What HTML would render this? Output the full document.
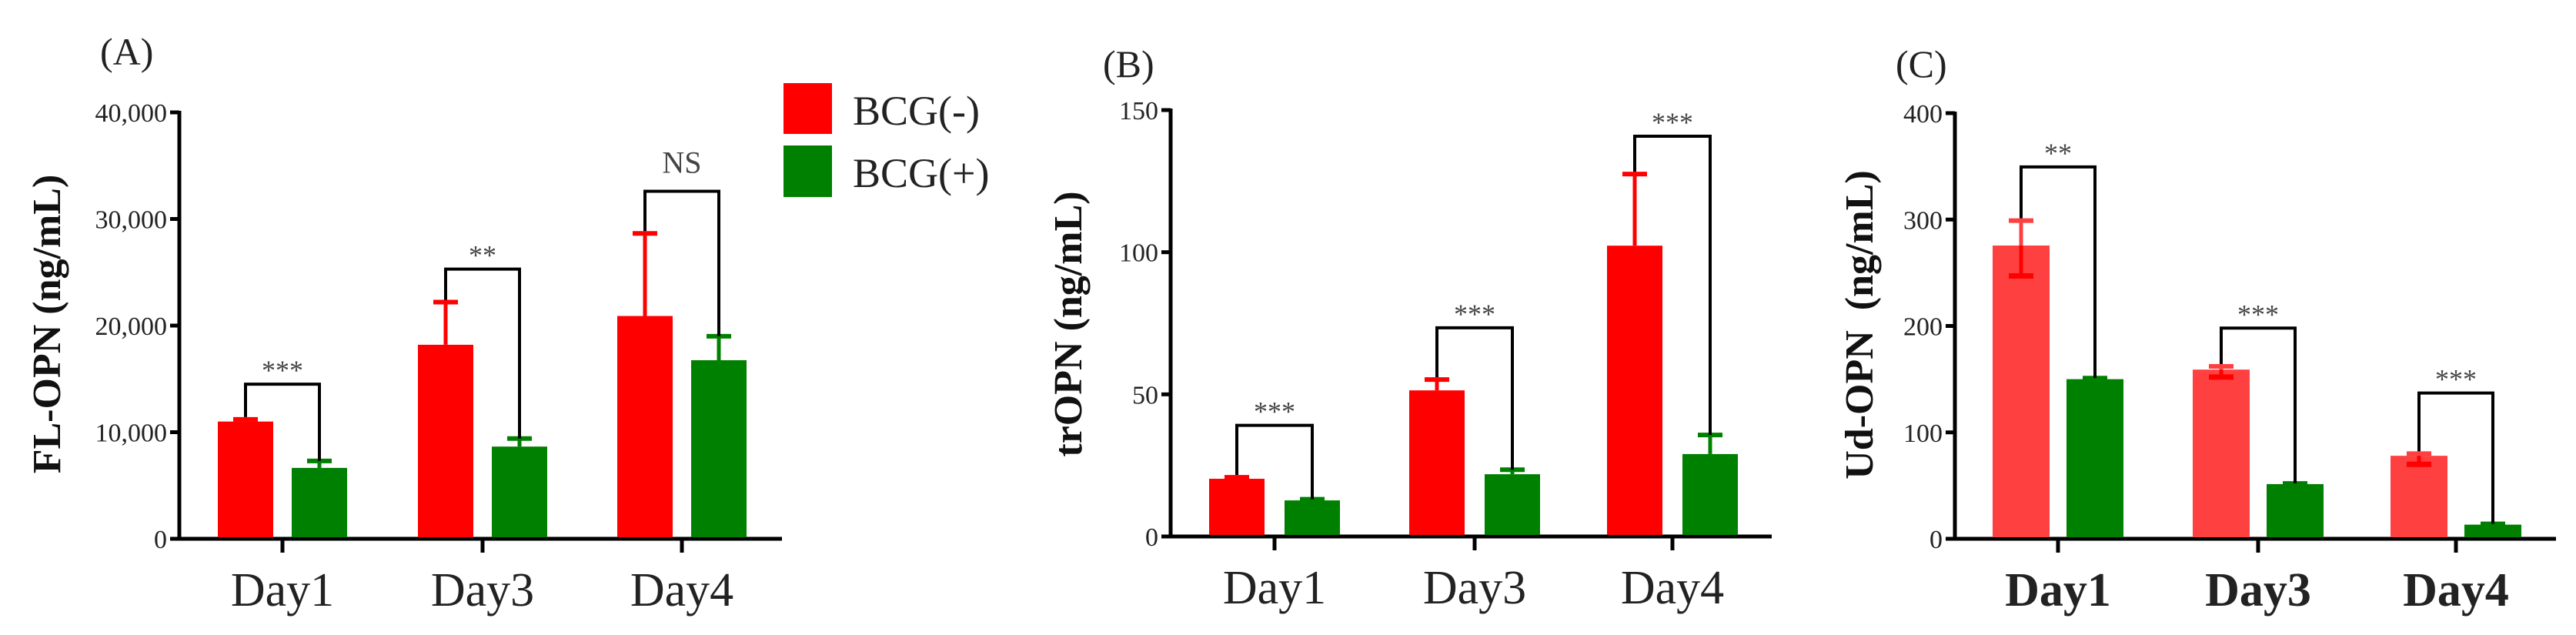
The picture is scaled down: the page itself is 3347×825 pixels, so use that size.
<!DOCTYPE html>
<html><head><meta charset="utf-8"><style>
html,body{margin:0;padding:0;background:#fff;}
svg{display:block;font-family:"Liberation Serif",serif;}
</style></head><body>
<svg id="fig" width="3347" height="825" viewBox="0 0 3347 825" xmlns="http://www.w3.org/2000/svg">
<g>
<rect x="1018" y="108" width="63" height="66" fill="#ff0000"/>
<rect x="1018" y="189" width="63" height="67" fill="#008000"/>
<text x="1108" y="162" font-size="54" fill="#222">BCG(-)</text>
<text x="1108" y="243" font-size="54" fill="#222">BCG(+)</text>
</g>
</svg>
<script>
const categories = ["Day1","Day3","Day4"];
// Panel A
const aTicks = [0,10000,20000,30000,40000];
const aTickLabels = ["0","10,000","20,000","30,000","40,000"];
const aNeg = [11000,18200,20900];
const aNegErr = [11200,22200,28650];
const aPos = [6650,8650,16750];
const aPosErr = [7300,9400,19000];
const aBracket = [14500,25300,32600];
const aSig = ["***","**","NS"];
// Panel B
const bTicks = [0,50,100,150];
const bTickLabels = ["0","50","100","150"];
const bNeg = [20.3,51.4,102.3];
const bNegErr = [20.8,55.2,127.5];
const bPos = [12.7,21.9,29];
const bPosErr = [13.1,23.5,35.7];
const bBracket = [39.1,73.4,140.8];
const bSig = ["***","***","***"];
// Panel C
const cTicks = [0,100,200,300,400];
const cTickLabels = ["0","100","200","300","400"];
const cNeg = [275.6,159,78];
const cNegErr = [299,162,80];
const cNegLow = [247,152,70];
const cPos = [150,51.4,13.3];
const cPosErr = [151,52,14];
const cBracket = [349.5,198,137];
const cSig = ["**","***","***"];

const NS="http://www.w3.org/2000/svg";
const svg=document.getElementById('fig');
function mk(tag,attrs,parent){const e=document.createElementNS(NS,tag);for(const k in attrs)e.setAttribute(k,attrs[k]);(parent||svg).appendChild(e);return e;}

function panel(cfg){
  const g=mk('g',{});
  
  
  const y=v=>cfg.y0-(v/cfg.max)*(cfg.y0-cfg.yTop);
  // axes
  const ya=mk('line',{x1:cfg.ax,y1:cfg.yTop-2,x2:cfg.ax,y2:cfg.y0,stroke:'#000','stroke-width':5},g);
  
  
  const xa=mk('line',{x1:cfg.ax-12,y1:cfg.y0,x2:cfg.axEnd,y2:cfg.y0,stroke:'#000','stroke-width':5},g);
  
  
  cfg.ticks.forEach((t,i)=>{
    mk('line',{x1:cfg.ax-12,y1:y(t),x2:cfg.ax,y2:y(t),stroke:'#000','stroke-width':5},g);
    const tl=mk('text',{x:cfg.ax-16,y:y(t)+12,'font-size':34,'text-anchor':'end',fill:'#222'},g);
    tl.textContent=cfg.tickLabels[i];
    
    
  });
  // y title
  const yt=mk('text',{x:cfg.titleX,y:cfg.titleY,'font-size':52,'font-weight':'bold','text-anchor':'middle',fill:'#111',transform:`rotate(-90 ${cfg.titleX} ${cfg.titleY})`},g);
  yt.textContent=cfg.title;
  
  
  const pl=mk('text',{x:cfg.labelX,y:cfg.labelY,'font-size':50,fill:'#222'},g);
  pl.textContent=cfg.label;
  
  
  categories.forEach((c,i)=>{
    const cx=cfg.tickX[i];
    mk('line',{x1:cx,y1:cfg.y0,x2:cx,y2:cfg.y0+18,stroke:'#000','stroke-width':5},g);
    const xl=mk('text',{x:cx,y:cfg.y0+87,'font-size':62,'text-anchor':'middle',fill:'#222','font-weight':cfg.boldX?'bold':'normal'},g);
    xl.textContent=c;
    
    
    const rx=cx-cfg.off-cfg.bw/2, gx=cx+cfg.off-cfg.bw/2;
    const rcx=cx-cfg.off, gcx=cx+cfg.off;
    // error bars
    const eNegTop=y(cfg.negErr[i]);
    mk('line',{x1:rcx,y1:eNegTop,x2:rcx,y2:y(cfg.neg[i]),stroke:cfg.negColor,'stroke-width':5},g);
    mk('line',{x1:rcx-16,y1:eNegTop,x2:rcx+16,y2:eNegTop,stroke:cfg.negColor,'stroke-width':6},g);
    const eP=y(cfg.posErr[i]);
    mk('line',{x1:gcx,y1:eP,x2:gcx,y2:y(cfg.pos[i]),stroke:'#008000','stroke-width':5},g);
    mk('line',{x1:gcx-16,y1:eP,x2:gcx+16,y2:eP,stroke:'#008000','stroke-width':6},g);
    const rb=mk('rect',{x:rx,y:y(cfg.neg[i]),width:cfg.bw,height:cfg.y0-y(cfg.neg[i])-2,fill:cfg.negColor},g);
    
    
    const gb=mk('rect',{x:gx,y:y(cfg.pos[i]),width:cfg.bw,height:cfg.y0-y(cfg.pos[i])-2,fill:'#008000'},g);
    
    
    if(cfg.negLow){
      const lo=y(cfg.negLow[i]);
      mk('line',{x1:rcx,y1:y(cfg.neg[i]),x2:rcx,y2:lo,stroke:'#ff0000','stroke-width':5},g);
      mk('line',{x1:rcx-16,y1:lo,x2:rcx+16,y2:lo,stroke:'#ff0000','stroke-width':7},g);
    }
    // bracket
    const by=y(cfg.bracket[i]);
    const br=mk('path',{d:`M${rcx} ${y(cfg.negErr[i])-3} V${by} H${gcx} V${y(cfg.posErr[i])}`,fill:'none',stroke:'#000','stroke-width':4},g);
    
    
    const st=mk('text',{x:(rcx+gcx)/2,y:by-(cfg.sig[i]==='NS'?24:6),'font-size':cfg.sig[i]==='NS'?40:36,'text-anchor':'middle',fill:'#444'},g);
    st.textContent=cfg.sig[i];
    
    
  });
}
panel({name:'panel-a-fl-opn',ax:233,axEnd:1016,y0:700,yTop:146,max:40000,ticks:aTicks,tickLabels:aTickLabels,
  neg:aNeg,negErr:aNegErr,pos:aPos,posErr:aPosErr,bracket:aBracket,sig:aSig,negColor:'#ff0000',
  tickX:[367,627,886],off:48,bw:72,title:'FL-OPN (ng/mL)',titleX:78,titleY:421,label:'(A)',labelX:130,labelY:84});
panel({name:'panel-b-tropn',ax:1521,axEnd:2302,y0:697,yTop:143,max:150,ticks:bTicks,tickLabels:bTickLabels,
  neg:bNeg,negErr:bNegErr,pos:bPos,posErr:bPosErr,bracket:bBracket,sig:bSig,negColor:'#ff0000',
  tickX:[1656,1916,2173],off:49,bw:72,title:'trOPN (ng/mL)',titleX:1405,titleY:421,label:'(B)',labelX:1433,labelY:100});
panel({name:'panel-c-ud-opn',ax:2540,axEnd:3321,y0:700,yTop:147,max:400,ticks:cTicks,tickLabels:cTickLabels,
  neg:cNeg,negErr:cNegErr,negLow:cNegLow,pos:cPos,posErr:cPosErr,bracket:cBracket,sig:cSig,negColor:'#ff4040',
  tickX:[2674,2934,3191],off:48,bw:74,boldX:true,title:'Ud-OPN\u00a0 (ng/mL)',titleX:2433,titleY:422,label:'(C)',labelX:2463,labelY:100});
</script>
</body></html>
